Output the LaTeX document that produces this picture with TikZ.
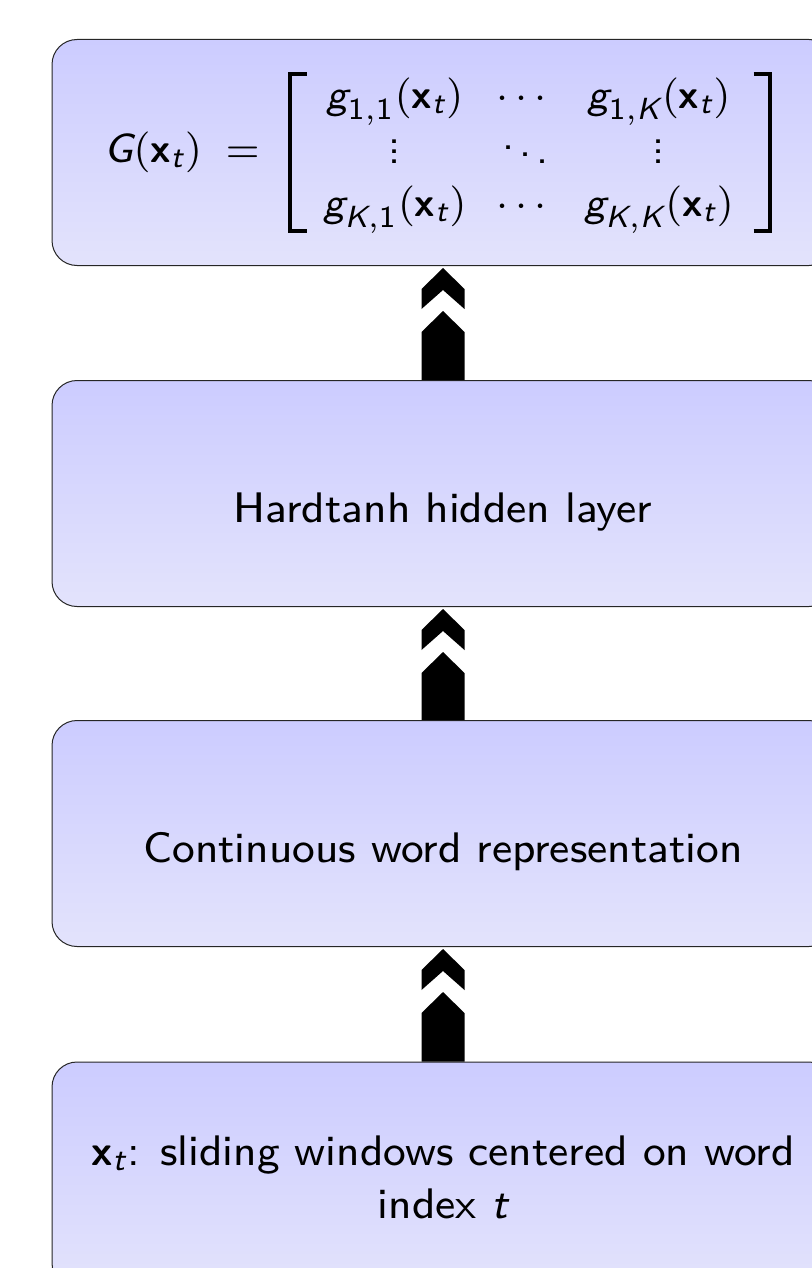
\documentclass[tikz,border=0pt]{standalone}
\usepackage{amsmath}
\usepackage{graphicx}
\usetikzlibrary{calc}

\definecolor{boxtop}{RGB}{204,204,255}
\definecolor{boxbottom}{RGB}{227,227,252}

% sans-serif math pieces
\newcommand{\si}[1]{\text{\sffamily\itshape #1}}
\newcommand{\su}[1]{\text{\sffamily #1}}
\newcommand{\bx}{\text{\sffamily\bfseries x}}
\newcommand{\xt}{\bx_{\si{t}}}
\newcommand{\gij}[2]{\si{g}_{#1,#2}(\xt)}
% compact dots for the matrix
\newcommand{\svdots}{\vbox{\baselineskip1.96pt\lineskiplimit0pt\hbox{.}\hbox{.}\hbox{.}}}
\newcommand{\sddots}{\mathinner{\raise2.74pt\hbox{.}\mkern2mu\raise1.37pt\hbox{.}\mkern2mu\hbox{.}}}
\newcommand{\midcell}[1]{\makebox[0pt]{$#1$}}
% square brackets of fixed size, centred on the math axis
\newlength{\brkh}\setlength{\brkh}{31.4pt}
\newlength{\brkw}\setlength{\brkw}{0.78pt}
\newlength{\brks}\setlength{\brks}{2.9pt}
\newcommand{\lbrk}{\mathopen{\vcenter{\hbox{\rule{\brkw}{\brkh}\rule[\dimexpr\brkh-\brkw\relax]{\brks}{\brkw}\llap{\rule{\brks}{\brkw}}}}}}
\newcommand{\rbrk}{\mathclose{\vcenter{\hbox{\rule[\dimexpr\brkh-\brkw\relax]{\brks}{\brkw}\llap{\rule{\brks}{\brkw}}\rule{\brkw}{\brkh}}}}}
\newcommand{\txtscale}{2.67}
\newcommand{\mathscale}{2.55}

\tikzset{
  layerbox/.style={
    rectangle, rounded corners=12.5pt, draw=black!85, line width=0.5pt,
    top color=boxtop, bottom color=boxbottom,
    minimum width=391pt, minimum height=113pt,
    align=center, inner sep=0pt,
    font=\fontsize{8}{10}\selectfont\sffamily
  },
  oneline/.style={text height=28.5pt, text depth=0pt},
  flowarrow/.style={fill=black, draw=none}
}

% double chevron arrow pointing from the lower box (#2) up to the upper box (#1)
\newcommand{\layerarrow}[2]{%
  \fill[flowarrow]
    ($(#1.south)+(0,2)$) -- ($(#1.south)+(21.5,23)$) -- ($(#1.south)+(21.5,43)$)
    -- ($(#1.south)+(0,24)$) -- ($(#1.south)+(-21.5,43)$) -- ($(#1.south)+(-21.5,23)$) -- cycle;
  \fill[flowarrow]
    ($(#1.south)+(0,45)$) -- ($(#1.south)+(21.5,66)$) -- ($(#2.north)+(21.5,0)$)
    -- ($(#2.north)+(-21.5,0)$) -- ($(#1.south)+(-21.5,66)$) -- cycle;
}

\begin{document}
\begin{tikzpicture}[x=0.5pt, y=-0.5pt]
  \useasboundingbox (0,0) rectangle (812,1268);
  \clip (0,0) rectangle (812,1268);

  \node[layerbox, font=\fontsize{8}{10.5}\selectfont\sffamily] (gate) at (443,152.5) {\scalebox{\mathscale}{%
    $\si{G}(\xt)\kern4.7pt{=}\kern5.5pt\lbrk\begin{array}{@{\hspace{3.3pt}}c@{\hspace{11.55pt}}c@{\hspace{11.55pt}}c@{\hspace{3.9pt}}}
      \gij{\su{1}}{\su{1}} & \midcell{\cdots} & \gij{\su{1}}{\si{K}}\\
      \svdots & \midcell{\sddots} & \svdots\\
      \gij{\si{K}}{\su{1}} & \midcell{\cdots} & \gij{\si{K}}{\si{K}}
    \end{array}\rbrk\kern1.75pt$}};

  \node[layerbox, oneline] (hidden) at (443,493.5) {\scalebox{\txtscale}{Hardtanh hidden layer}};

  \node[layerbox, oneline] (embed) at (443,833.5) {\scalebox{\txtscale}{Continuous word representation}};

  \node[layerbox, text height=0pt, text depth=10pt] (input) at (443,1175)
    {\scalebox{\txtscale}{\parbox[t]{145pt}{\centering
    $\xt$: sliding windows centered on word index $\si{t}$}}};

  \layerarrow{gate}{hidden}
  \layerarrow{hidden}{embed}
  \layerarrow{embed}{input}
\end{tikzpicture}
\end{document}
